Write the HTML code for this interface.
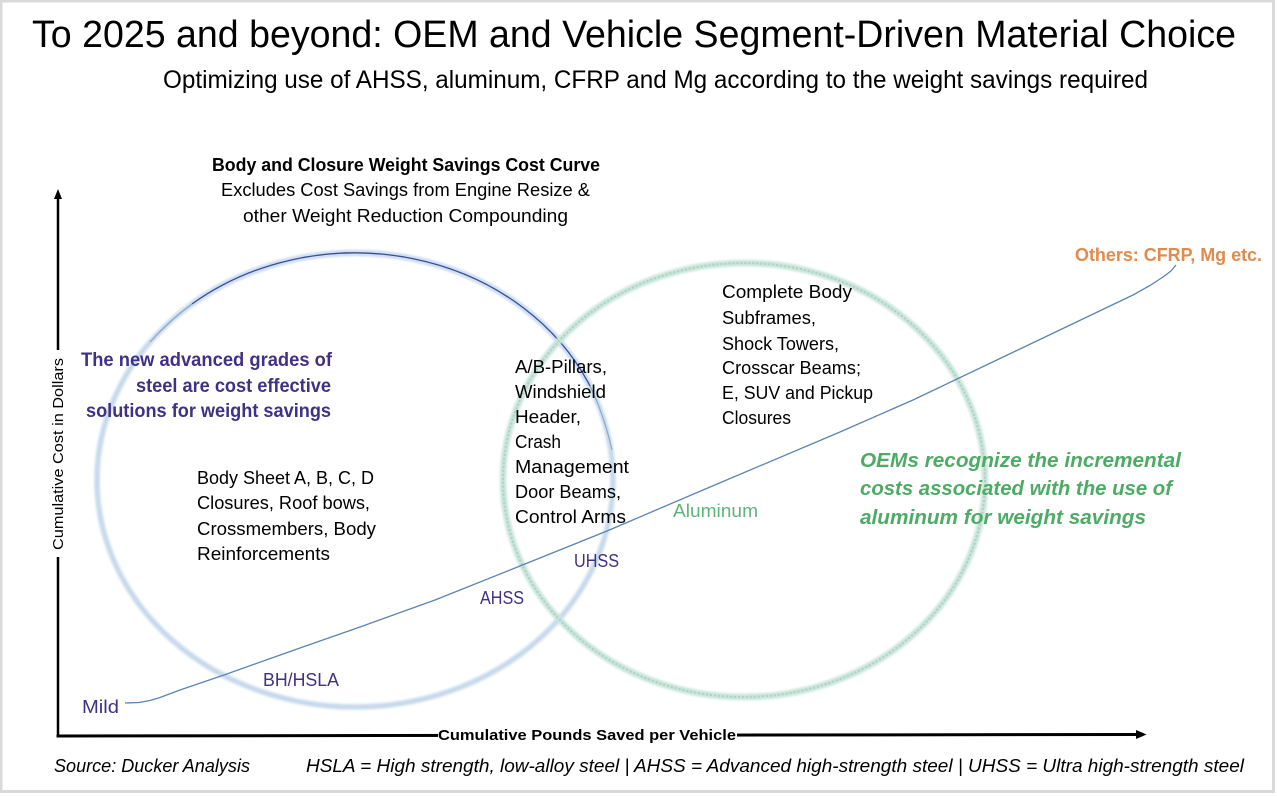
<!DOCTYPE html>
<html><head><meta charset="utf-8"><title>Material Choice</title>
<style>html,body{margin:0;padding:0;background:#fff}svg{display:block}text{font-family:"Liberation Sans",sans-serif}</style></head>
<body>
<svg width="1277" height="796" viewBox="0 0 1277 796" xmlns="http://www.w3.org/2000/svg">
<defs>
<filter id="b1" x="-10%" y="-10%" width="120%" height="120%"><feGaussianBlur stdDeviation="1.1"/></filter>
</defs>
<rect width="1277" height="796" fill="#fff"/>
<rect x="1" y="1" width="1272.5" height="790.5" fill="none" stroke="#d9d9d9" stroke-width="3"/>
<rect x="1275" y="0" width="2" height="796" fill="#fff"/>
<rect x="0" y="793" width="1277" height="3" fill="#fff"/>

<text x="32" y="47" font-size="38" fill="#000" textLength="1204" lengthAdjust="spacingAndGlyphs">To 2025 and beyond: OEM and Vehicle Segment-Driven Material Choice</text>
<text x="163" y="88" font-size="25" textLength="985" lengthAdjust="spacingAndGlyphs">Optimizing use of AHSS, aluminum, CFRP and Mg according to the weight savings required</text>
<text x="212" y="171" font-size="18" font-weight="bold" textLength="388" lengthAdjust="spacingAndGlyphs">Body and Closure Weight Savings Cost Curve</text>
<text x="221" y="196" font-size="18" textLength="369" lengthAdjust="spacingAndGlyphs">Excludes Cost Savings from Engine Resize &amp;</text>
<text x="243" y="222" font-size="18" textLength="325" lengthAdjust="spacingAndGlyphs">other Weight Reduction Compounding</text>

<!-- circles -->
<ellipse cx="355" cy="480" rx="258" ry="227" fill="none" stroke="#d3e2f0" stroke-width="6" filter="url(#b1)"/>
<ellipse cx="355" cy="480" rx="258" ry="227" fill="none" stroke="#bdd2e6" stroke-width="1.6" filter="url(#b1)"/>
<path d="M192 304 A258 227 0 0 1 590 386" fill="none" stroke="#d2def5" stroke-width="5" filter="url(#b1)"/>
<path d="M192 304 A258 227 0 0 1 590 386" fill="none" stroke="#34508f" stroke-width="1.3"/>
<path d="M150 342 Q170 320 192 304" fill="none" stroke="#88a4c9" stroke-width="1.1"/>
<path d="M590 386 Q604 415 612 450" fill="none" stroke="#8aa6c9" stroke-width="1.1"/>
<ellipse cx="744" cy="480" rx="241" ry="217" fill="none" stroke="#c9e5da" stroke-width="6.5" filter="url(#b1)"/>
<ellipse cx="744" cy="480" rx="241" ry="217" fill="none" stroke="#a3c9bd" stroke-width="2" stroke-dasharray="2 2" opacity=".75"/>

<!-- curve -->
<path d="M125 703 L139 702.5 L150 700.5 L160 697.5 L180 690 L224 675 L300 648 L360 627 L435 600 L520 566 L607 531 L703 490 L840 432 L913 400 L1043 338 L1133 295 L1150 285.5 L1163 277 L1171 271 L1176 265" fill="none" stroke="#5b84b1" stroke-width="1.3" stroke-linejoin="round"/>

<!-- axes -->
<path d="M58 737.5 V198" stroke="#000" stroke-width="2.5" fill="none"/>
<polygon points="58,189 54,199 62,199" fill="#000"/>
<path d="M56.5 736 L1138 734.5" stroke="#000" stroke-width="3" fill="none"/>
<polygon points="1146.5,734.5 1136,730 1136,739" fill="#000"/>
<rect x="48" y="350" width="18" height="207" fill="#fff"/>
<text transform="translate(63 550) rotate(-90)" font-size="14.5" textLength="192" lengthAdjust="spacingAndGlyphs">Cumulative Cost in Dollars</text>
<rect x="438" y="727" width="299" height="16" fill="#fff"/>
<text x="438" y="740" font-size="15" font-weight="bold" textLength="298" lengthAdjust="spacingAndGlyphs">Cumulative Pounds Saved per Vehicle</text>

<!-- purple -->
<g font-size="19" font-weight="bold" fill="#3f3186">
<text x="81" y="366" textLength="251" lengthAdjust="spacingAndGlyphs">The new advanced grades of</text>
<text x="136" y="392" textLength="195" lengthAdjust="spacingAndGlyphs">steel are cost effective</text>
<text x="86" y="417" textLength="245" lengthAdjust="spacingAndGlyphs">solutions for weight savings</text>
</g>

<!-- black lists -->
<g font-size="18" fill="#000">
<text x="197" y="484" textLength="177" lengthAdjust="spacingAndGlyphs">Body Sheet A, B, C, D</text>
<text x="197" y="509" textLength="173" lengthAdjust="spacingAndGlyphs">Closures,  Roof bows,</text>
<text x="197" y="535" textLength="179" lengthAdjust="spacingAndGlyphs">Crossmembers,  Body</text>
<text x="197" y="560" textLength="133" lengthAdjust="spacingAndGlyphs">Reinforcements</text>

<text x="515" y="373" textLength="92" lengthAdjust="spacingAndGlyphs">A/B-Pillars,</text>
<text x="515" y="398" textLength="91" lengthAdjust="spacingAndGlyphs">Windshield</text>
<text x="515" y="423" textLength="66" lengthAdjust="spacingAndGlyphs">Header,</text>
<text x="515" y="448" textLength="46" lengthAdjust="spacingAndGlyphs">Crash</text>
<text x="515" y="473" textLength="114" lengthAdjust="spacingAndGlyphs">Management</text>
<text x="515" y="498" textLength="106" lengthAdjust="spacingAndGlyphs">Door Beams,</text>
<text x="515" y="523" textLength="111" lengthAdjust="spacingAndGlyphs">Control Arms</text>

<text x="722" y="298" textLength="130" lengthAdjust="spacingAndGlyphs">Complete Body</text>
<text x="722" y="324" textLength="94" lengthAdjust="spacingAndGlyphs">Subframes,</text>
<text x="722" y="350" textLength="117" lengthAdjust="spacingAndGlyphs">Shock Towers,</text>
<text x="722" y="374" textLength="139" lengthAdjust="spacingAndGlyphs">Crosscar Beams;</text>
<text x="722" y="399" textLength="151" lengthAdjust="spacingAndGlyphs">E, SUV and Pickup</text>
<text x="722" y="424" textLength="69" lengthAdjust="spacingAndGlyphs">Closures</text>
</g>

<!-- green -->
<g font-size="20" font-weight="bold" font-style="italic" fill="#4dab66">
<text x="860" y="467" textLength="321" lengthAdjust="spacingAndGlyphs">OEMs recognize the incremental</text>
<text x="860" y="495" textLength="312" lengthAdjust="spacingAndGlyphs">costs associated with the use of</text>
<text x="860" y="524" textLength="286" lengthAdjust="spacingAndGlyphs">aluminum  for weight savings</text>
</g>

<!-- points -->
<text x="673" y="517" font-size="18" fill="#5db57b" textLength="85" lengthAdjust="spacingAndGlyphs">Aluminum</text>
<g font-size="18" fill="#3f3186">
<text x="574" y="567" textLength="45" lengthAdjust="spacingAndGlyphs">UHSS</text>
<text x="480" y="604" textLength="44" lengthAdjust="spacingAndGlyphs">AHSS</text>
<text x="263" y="686" textLength="76" lengthAdjust="spacingAndGlyphs">BH/HSLA</text>
<text x="82" y="713" textLength="37" lengthAdjust="spacingAndGlyphs">Mild</text>
</g>
<text x="1075" y="261" font-size="18" font-weight="bold" fill="#e08b4c" textLength="187" lengthAdjust="spacingAndGlyphs">Others: CFRP,  Mg etc.</text>

<g font-size="18" font-style="italic" fill="#000">
<text x="54" y="772" textLength="196" lengthAdjust="spacingAndGlyphs">Source: Ducker Analysis</text>
<text x="306" y="772" textLength="938" lengthAdjust="spacingAndGlyphs">HSLA = High strength, low-alloy  steel | AHSS = Advanced high-strength steel | UHSS = Ultra high-strength  steel</text>
</g>
</svg>
</body></html>
